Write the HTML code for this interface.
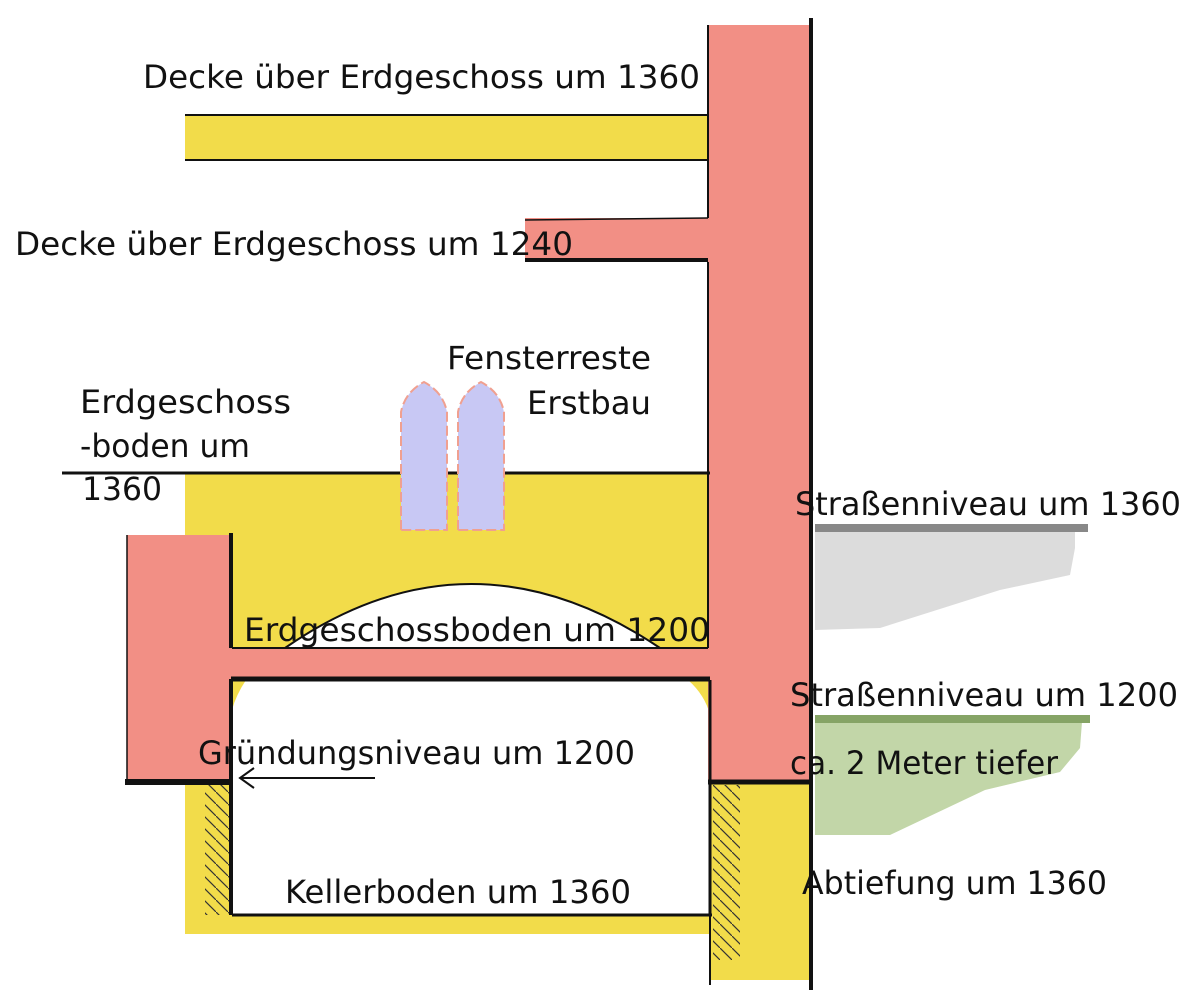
<!DOCTYPE html>
<html><head><meta charset="utf-8"><style>
html,body{margin:0;padding:0;background:#fff;}
svg{display:block;}
text{font-family:"DejaVu Sans","Liberation Sans",sans-serif;font-size:32px;fill:#111;}
</style></head><body>
<svg width="1200" height="1000" viewBox="0 0 1200 1000" xmlns="http://www.w3.org/2000/svg">
<defs>
<pattern id="hatch" width="12" height="12" patternUnits="userSpaceOnUse">
<line x1="0" y1="0" x2="12" y2="12" stroke="#333" stroke-width="1.2"/>
</pattern>
</defs>
<polygon points="815,532 1075,532 1075,548 1070,575 1000,590 880,628 815,630" fill="#dcdcdc"/>
<rect x="815" y="524" width="273" height="8" fill="#888"/>
<polygon points="815,722 1082,722 1080,748 1060,772 985,790 890,835 815,835" fill="#c2d6a8"/>
<rect x="815" y="715" width="275" height="8" fill="#86a466"/>
<rect x="185" y="115" width="525" height="45" fill="#f2dc4a"/>
<line x1="185" y1="115" x2="708" y2="115" stroke="#111" stroke-width="2"/>
<line x1="185" y1="160" x2="708" y2="160" stroke="#111" stroke-width="2"/>
<rect x="185" y="474" width="525" height="460" fill="#f2dc4a"/>
<rect x="710" y="782" width="100" height="198" fill="#f2dc4a"/>
<path d="M285,648 Q470,520 660,648 Z" fill="#fff" stroke="#111" stroke-width="2"/>
<path d="M232,680 L710,680 L710,915 L232,915 Z" fill="#fff"/>
<path d="M232,680 L246,680 Q236,695 232,710 Z" fill="#f2dc4a"/>
<path d="M710,680 L688,680 Q705,695 710,715 Z" fill="#f2dc4a"/>
<line x1="232" y1="915" x2="712" y2="915" stroke="#111" stroke-width="3"/>
<rect x="205" y="785" width="26" height="130" fill="url(#hatch)"/>
<rect x="713" y="785" width="27" height="175" fill="url(#hatch)"/>
<rect x="525" y="218" width="185" height="43" fill="#f28f85"/>
<line x1="525" y1="260" x2="708" y2="260" stroke="#111" stroke-width="4"/>
<line x1="525" y1="220" x2="708" y2="218" stroke="#111" stroke-width="1.5"/>
<rect x="708" y="25" width="102" height="757" fill="#f28f85"/>
<line x1="708" y1="25" x2="708" y2="218" stroke="#111" stroke-width="2"/>
<line x1="708" y1="262" x2="708" y2="648" stroke="#111" stroke-width="2"/>
<line x1="710" y1="680" x2="710" y2="915" stroke="#111" stroke-width="3"/>
<line x1="811" y1="18" x2="811" y2="990" stroke="#111" stroke-width="4"/>
<line x1="708" y1="782" x2="812" y2="782" stroke="#111" stroke-width="5"/>
<line x1="710" y1="915" x2="710" y2="985" stroke="#111" stroke-width="2"/>
<rect x="230" y="648" width="480" height="31" fill="#f28f85"/>
<line x1="232" y1="648" x2="708" y2="648" stroke="#111" stroke-width="2"/>
<line x1="230" y1="679" x2="710" y2="679" stroke="#111" stroke-width="5"/>
<rect x="127" y="535" width="104" height="247" fill="#f28f85"/>
<line x1="127" y1="535" x2="127" y2="782" stroke="#111" stroke-width="1.5"/>
<line x1="231" y1="533" x2="231" y2="648" stroke="#111" stroke-width="4"/>
<line x1="231" y1="679" x2="231" y2="915" stroke="#111" stroke-width="4"/>
<line x1="125" y1="782" x2="233" y2="782" stroke="#111" stroke-width="6"/>
<line x1="62" y1="473" x2="710" y2="473" stroke="#111" stroke-width="3"/>
<path d="M401,530 L401,412 Q405,392 424,382 Q443,392 447,412 L447,530 Z" fill="#c8c8f4" stroke="#f0a090" stroke-width="2" stroke-dasharray="10,4"/>
<path d="M458,530 L458,412 Q462,392 481,382 Q500,392 504,412 L504,530 Z" fill="#c8c8f4" stroke="#f0a090" stroke-width="2" stroke-dasharray="10,4"/>
<line x1="240" y1="778" x2="375" y2="778" stroke="#111" stroke-width="2"/>
<polyline points="254,768 240,778 254,788" fill="none" stroke="#111" stroke-width="2"/>
<text x="143" y="88" textLength="557" lengthAdjust="spacingAndGlyphs">Decke über Erdgeschoss um 1360</text>
<text x="15" y="255" textLength="558" lengthAdjust="spacingAndGlyphs">Decke über Erdgeschoss um 1240</text>
<text x="447" y="369" textLength="204" lengthAdjust="spacingAndGlyphs">Fensterreste</text>
<text x="527" y="414" textLength="124" lengthAdjust="spacingAndGlyphs">Erstbau</text>
<text x="80" y="413" textLength="211" lengthAdjust="spacingAndGlyphs">Erdgeschoss</text>
<text x="80" y="457" textLength="170" lengthAdjust="spacingAndGlyphs">-boden um</text>
<text x="82" y="500" textLength="80" lengthAdjust="spacingAndGlyphs">1360</text>
<text x="795" y="515" textLength="386" lengthAdjust="spacingAndGlyphs">Straßenniveau um 1360</text>
<text x="244" y="641" textLength="466" lengthAdjust="spacingAndGlyphs">Erdgeschossboden um 1200</text>
<text x="790" y="706" textLength="388" lengthAdjust="spacingAndGlyphs">Straßenniveau um 1200</text>
<text x="198" y="764" textLength="437" lengthAdjust="spacingAndGlyphs">Gründungsniveau um 1200</text>
<text x="790" y="774" textLength="268" lengthAdjust="spacingAndGlyphs">ca. 2 Meter tiefer</text>
<text x="802" y="894" textLength="305" lengthAdjust="spacingAndGlyphs">Abtiefung um 1360</text>
<text x="285" y="903" textLength="346" lengthAdjust="spacingAndGlyphs">Kellerboden um 1360</text>
</svg>
</body></html>
